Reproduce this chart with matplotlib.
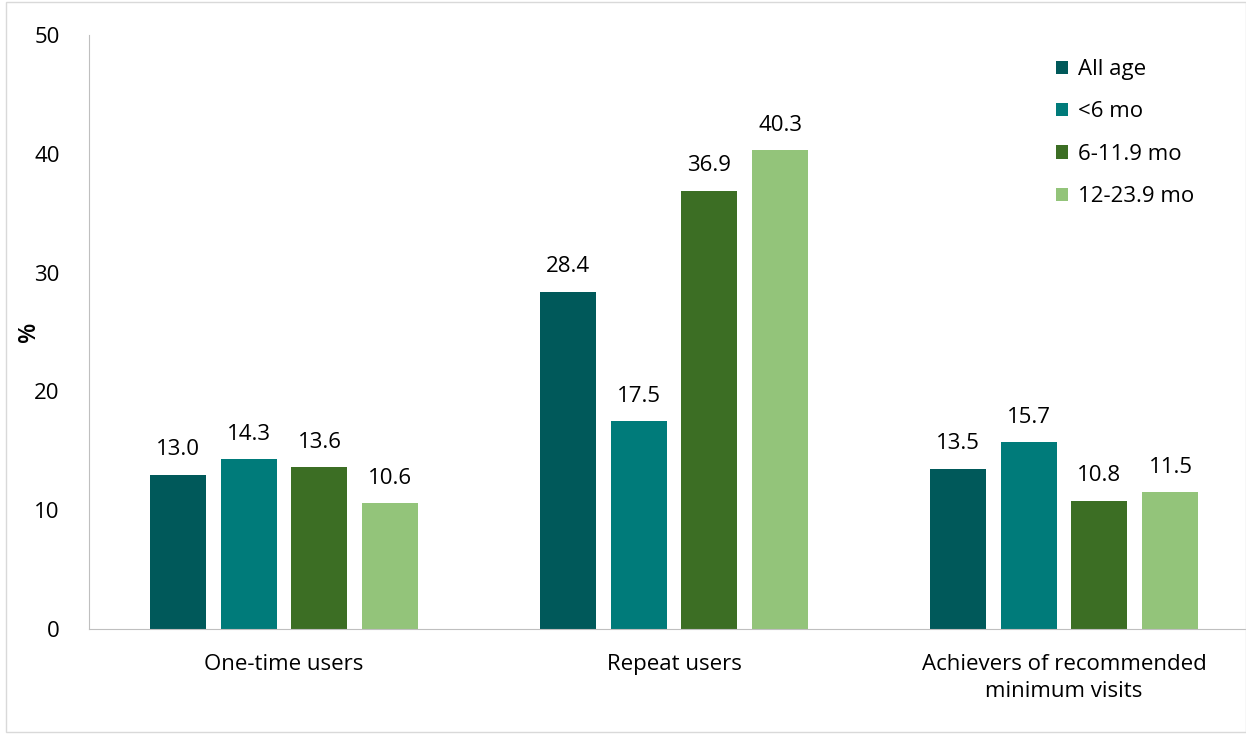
import matplotlib.pyplot as plt
import numpy as np
from matplotlib.patches import Rectangle

plt.rcParams['font.family'] = ['Open Sans', 'DejaVu Sans']

categorias = ["One-time users", "Repeat users", "Achievers of recommended\nminimum visits"]
grupos = ["All age", "<6 mo", "6-11.9 mo", "12-23.9 mo"]
all_age = [13.0, 28.4, 13.5]
menor_6 = [14.3, 17.5, 15.7]
de_6_a_12 = [13.6, 36.9, 10.8]
de_12_a_24 = [10.6, 40.3, 11.5]
colores = ["#00595a", "#007b7a", "#3c6e24", "#93c47a"]

series = [all_age, menor_6, de_6_a_12, de_12_a_24]

fig = plt.figure(figsize=(12.46, 7.34), dpi=100)
ax = fig.add_axes([89 / 1246, 105 / 734, 1170 / 1246, 594 / 734])

x = np.arange(len(categorias))
ancho = 0.1436
paso = 0.182
for i, (valores, nombre) in enumerate(zip(series, grupos)):
    pos = x + (i - 1.5) * paso
    barras = ax.bar(pos, valores, width=ancho, color=colores[i], label=nombre)
    for b, v in zip(barras, valores):
        ax.text(b.get_x() + b.get_width() / 2, v + 1.2, f"{v:.1f}",
                ha="center", va="bottom", fontsize=16)

ax.set_xlim(-0.5, 2.5)
ax.set_ylim(0, 50)
ax.set_yticks(range(0, 51, 10))
ax.set_xticks(x)
ax.set_xticklabels(categorias, fontsize=16, linespacing=1.4)
ax.tick_params(axis="y", labelsize=16, length=0, pad=21)
ax.tick_params(axis="x", length=0, pad=18)
ax.set_ylabel("%", fontsize=17, fontweight="semibold")
ax.yaxis.set_label_coords(-0.041, 0.5)

for lado in ["top", "right"]:
    ax.spines[lado].set_visible(False)
ax.spines["left"].set_color("#bfbfbf")
ax.spines["bottom"].set_color("#bfbfbf")

ax.legend(loc="upper left", bbox_to_anchor=(0.809, 0.993), frameon=False,
          fontsize=16, handlelength=0.55, handleheight=0.55, handletextpad=0.45,
          labelspacing=0.96)

# marco gris del cuadro
fig.patches.append(Rectangle((6 / 1246, 0.003), 1 - 6 / 1246, 0.994,
                             transform=fig.transFigure, fill=False,
                             edgecolor="#d9d9d9", linewidth=1))

fig.savefig("out.png", dpi=100)
